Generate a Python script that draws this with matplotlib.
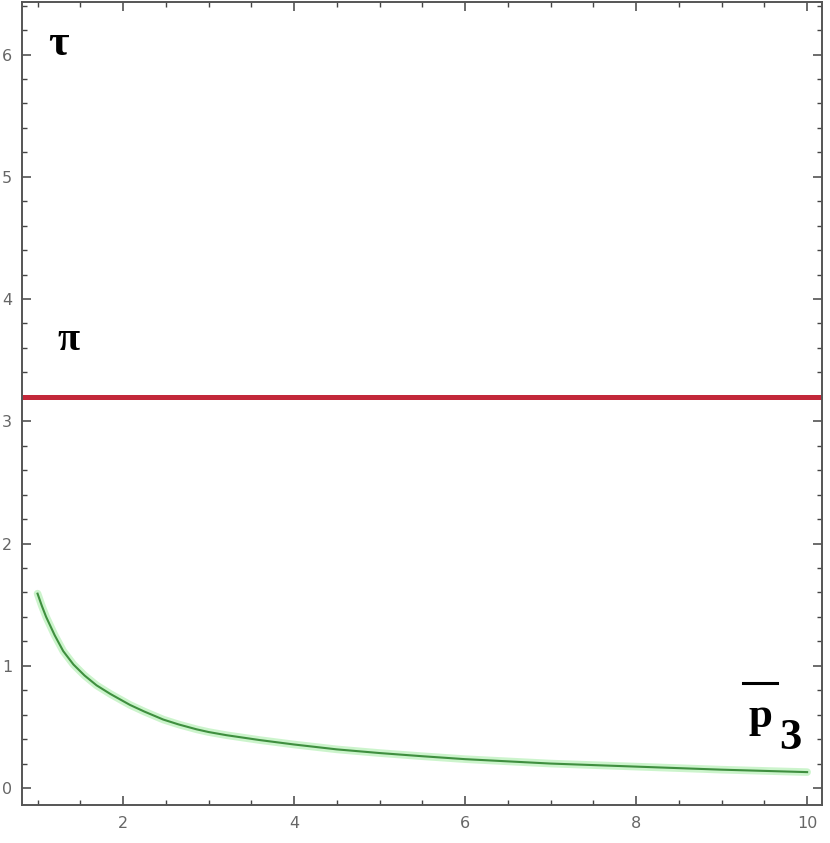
import numpy as np
import matplotlib.pyplot as plt
from matplotlib.ticker import MultipleLocator
from matplotlib.lines import Line2D

# values
p3 = [1.0, 1.05, 1.1, 1.2, 1.3, 1.42, 1.55, 1.69, 1.85, 2.08, 2.25, 2.47, 2.65, 2.86,
      3.0, 3.21, 3.6, 4.0, 4.5, 5.0, 5.5, 6.0, 7.0, 8.0, 9.0, 10.0]
tau = [1.59, 1.49, 1.40, 1.25, 1.12, 1.01, 0.92, 0.84, 0.77, 0.68, 0.625, 0.56, 0.52, 0.48,
       0.458, 0.432, 0.392, 0.356, 0.316, 0.286, 0.26, 0.236, 0.20, 0.175, 0.15, 0.13]
pi_level = 3.2

fig = plt.figure(figsize=(8.3, 8.43), dpi=100)
ax = fig.add_axes([22 / 830, 1 - 805 / 843, 800 / 830, 803 / 843])

# red horizontal line (labelled pi), spans the whole frame
ax.axhline(pi_level, color='#c3283a', lw=3.6)

# green curve with a soft glow
ax.plot(p3, tau, color='#8fe88f', lw=5.5, alpha=0.45, solid_capstyle='round')
ax.plot(p3, tau, color='#3f8f3f', lw=1.5)

ax.set_xlim(0.818, 10.174)
ax.set_ylim(-0.139, 6.43)

ax.xaxis.set_major_locator(MultipleLocator(2))
ax.xaxis.set_minor_locator(MultipleLocator(0.5))
ax.yaxis.set_major_locator(MultipleLocator(1))
ax.yaxis.set_minor_locator(MultipleLocator(0.2))

for side in ax.spines.values():
    side.set_color('#555555')
    side.set_linewidth(1.4)

ax.tick_params(which='both', direction='in', top=True, right=True, color='#444444',
               labelcolor='#666666', labelsize=11.5)
ax.tick_params(which='major', length=6.5, width=1.1)
ax.tick_params(which='minor', length=3.6, width=1.0)
ax.tick_params(axis='x', pad=8)
ax.tick_params(axis='y', pad=7)

serif = ['Liberation Serif', 'DejaVu Serif']
ax.text(0.045, 0.948, 'τ', transform=ax.transAxes, family=serif, weight='bold',
        fontsize=32, ha='center', va='center')
ax.text(0.058, 0.579, 'π', transform=ax.transAxes, family=serif, weight='bold',
        fontsize=29, ha='center', va='center')
ax.text(0.9225, 0.110, 'p', transform=ax.transAxes, family=serif, weight='bold',
        fontsize=31, ha='center', va='center')
ax.text(0.960, 0.083, '3', transform=ax.transAxes, family=serif, weight='bold',
        fontsize=32, ha='center', va='center')
ax.add_line(Line2D([0.9013, 0.9438], [0.152, 0.152], transform=ax.transAxes,
                   color='black', lw=2.2))

fig.savefig('out.png', dpi=100)
